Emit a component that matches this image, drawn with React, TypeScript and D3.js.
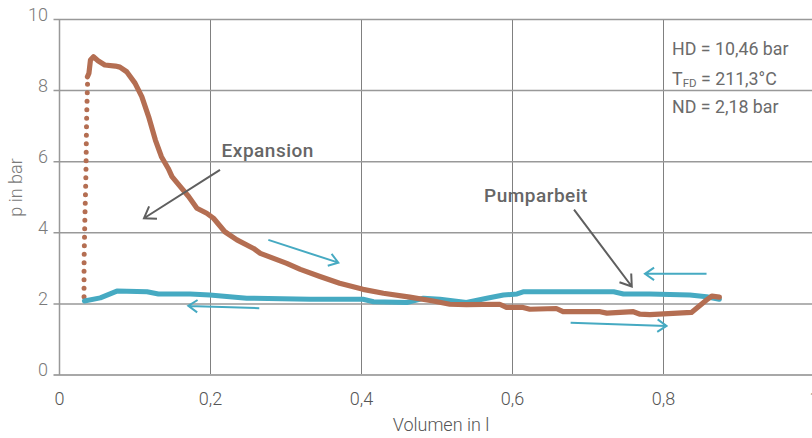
import React from "react";
import * as d3 from "d3";

// ---- data (volume in l, pressure in bar) ----
const xTicks = [0, 0.2, 0.4, 0.6, 0.8, 1];
const xTickLabels = ["0", "0,2", "0,4", "0,6", "0,8", "1"];
const yTicks = [0, 2, 4, 6, 8, 10];
const yTickLabels = ["0", "2", "4", "6", "8", "10"];

// dotted compression rise (brown)
const compV = [0.0325, 0.0325, 0.0334, 0.035, 0.036, 0.0374];
const compP = [2.2, 2.87, 4.17, 5.67, 7.27, 8.39];

// expansion curve (brown, solid)
const expV = [0.037, 0.039, 0.041, 0.045, 0.051, 0.06, 0.074, 0.08, 0.089, 0.1, 0.109, 0.118, 0.127, 0.135, 0.144, 0.149, 0.16, 0.171, 0.182, 0.195, 0.204, 0.219, 0.235, 0.257, 0.266, 0.301, 0.319, 0.345, 0.371, 0.402, 0.429, 0.464, 0.495, 0.517, 0.539, 0.583, 0.592, 0.614, 0.623, 0.658, 0.667, 0.716, 0.725, 0.76, 0.769, 0.782, 0.837, 0.857, 0.864, 0.874];
const expP = [8.39, 8.49, 8.86, 8.95, 8.84, 8.72, 8.69, 8.66, 8.53, 8.21, 7.83, 7.27, 6.61, 6.14, 5.81, 5.58, 5.3, 5.02, 4.69, 4.55, 4.41, 4.03, 3.8, 3.56, 3.42, 3.14, 2.97, 2.77, 2.58, 2.41, 2.3, 2.19, 2.08, 1.99, 1.98, 1.99, 1.9, 1.9, 1.85, 1.87, 1.78, 1.78, 1.74, 1.78, 1.71, 1.7, 1.76, 2.11, 2.22, 2.19];

// pumping curve (teal)
const pumpV = [0.033, 0.054, 0.076, 0.116, 0.131, 0.173, 0.199, 0.248, 0.332, 0.402, 0.416, 0.46, 0.482, 0.504, 0.539, 0.566, 0.588, 0.606, 0.614, 0.734, 0.747, 0.782, 0.835, 0.857, 0.874];
const pumpP = [2.08, 2.17, 2.36, 2.34, 2.28, 2.28, 2.25, 2.16, 2.13, 2.13, 2.06, 2.04, 2.16, 2.13, 2.04, 2.16, 2.25, 2.28, 2.34, 2.34, 2.28, 2.28, 2.25, 2.2, 2.13];

// annotation arrows [fromV, fromP, toV, toP]
const grayArrows = [
  [0.2126, 5.77, 0.1119, 4.41],
  [0.6815, 4.65, 0.758, 2.49],
];
const tealArrows = [
  [0.2766, 3.8, 0.3693, 3.16],
  [0.2646, 1.879, 0.1706, 1.944],
  [0.857, 2.845, 0.7755, 2.845],
  [0.677, 1.473, 0.804, 1.38],
];

const labelTexts = ["Expansion", "Pumparbeit"];
const labelV = [0.2147, 0.5623];
const labelP = [6.14, 4.87];

const infoV = 0.8113;
const infoP = [9.01, 8.17, 7.38];

const W = 812;
const H = 438;
const FONT = "Roboto, 'Open Sans', sans-serif";
const BROWN = "#b46e52";
const TEAL = "#46aac2";

export default function App() {
  const x = d3.scaleLinear().domain([0, 1]).range([59.5, 814.5]);
  const y = d3.scaleLinear().domain([0, 10]).range([375, 19.5]);

  const line = d3
    .line<[number, number]>()
    .x((d) => x(d[0]))
    .y((d) => y(d[1]))
    .curve(d3.curveLinear);

  const smooth = d3
    .line<[number, number]>()
    .x((d) => x(d[0]))
    .y((d) => y(d[1]))
    .curve(d3.curveMonotoneY);

  const comp = compV.map((v, i) => [v, compP[i]] as [number, number]);
  const exp = expV.map((v, i) => [v, expP[i]] as [number, number]);
  const pump = pumpV.map((v, i) => [v, pumpP[i]] as [number, number]);

  const arrow = (a: number[], len: number) => {
    const x1 = x(a[0]), y1 = y(a[1]), x2 = x(a[2]), y2 = y(a[3]);
    const ang = Math.atan2(y2 - y1, x2 - x1);
    const spread = 0.6;
    const h1x = x2 - len * Math.cos(ang - spread);
    const h1y = y2 - len * Math.sin(ang - spread);
    const h2x = x2 - len * Math.cos(ang + spread);
    const h2y = y2 - len * Math.sin(ang + spread);
    return `M${x1},${y1}L${x2},${y2}M${h1x},${h1y}L${x2},${y2}L${h2x},${h2y}`;
  };

  return (
    <svg
      width={W}
      height={H}
      style={{ position: "absolute", left: 0, top: 0, background: "#fff" }}
      fontFamily={FONT}
    >
      {/* vertical gridlines */}
      {xTicks.map((t) => (
        <line key={"vx" + t} x1={x(t)} x2={x(t)} y1={y(10)} y2={y(0)} stroke="#808080" strokeWidth={1} />
      ))}
      {/* horizontal gridlines (extend left as ticks) */}
      {yTicks.map((t) => (
        <line key={"hy" + t} x1={x(0) - 6} x2={W} y1={y(t)} y2={y(t)} stroke={t === 0 ? "#a8a8a8" : "#999"} strokeWidth={t === 0 ? 2 : 1.5} />
      ))}
      {/* y axis line */}
      <line x1={x(0)} x2={x(0)} y1={y(10)} y2={y(0)} stroke="#999" strokeWidth={1.5} />

      {/* y tick labels */}
      {yTicks.map((t, i) => (
        <text key={"yl" + t} x={48} y={y(t) + 1} textAnchor="end" fontSize={18} fontWeight={300} fill="#7a7a7a">
          {yTickLabels[i]}
        </text>
      ))}
      {/* x tick labels */}
      {xTicks.map((t, i) => (
        <text key={"xl" + t} x={x(t)} y={405} textAnchor="middle" fontSize={18} fontWeight={300} fill="#555">
          {xTickLabels[i]}
        </text>
      ))}
      {/* axis titles */}
      <text x={(x(0) + x(1)) / 2 + 4} y={431} textAnchor="middle" fontSize={18} fontWeight={300} fill="#555">
        Volumen in l
      </text>
      <text transform={`translate(21.5,187.5) rotate(-90)`} textAnchor="middle" fontSize={18} fontWeight={300} fill="#7a7a7a">
        p in bar
      </text>

      {/* curves */}
      <path d={smooth(comp) || ""} fill="none" stroke={BROWN} strokeWidth={5} strokeLinecap="round" strokeDasharray="0 8.5" />
      <path d={line(pump) || ""} fill="none" stroke={TEAL} strokeWidth={5} strokeLinejoin="round" strokeLinecap="round" />
      <path d={line(exp) || ""} fill="none" stroke={BROWN} strokeWidth={5.2} strokeLinejoin="round" strokeLinecap="round" />

      {/* arrows */}
      {grayArrows.map((a, i) => (
        <path key={"ga" + i} d={arrow(a, 13)} fill="none" stroke="#5f5f5f" strokeWidth={2} />
      ))}
      {tealArrows.map((a, i) => (
        <path key={"ta" + i} d={arrow(a, 11)} fill="none" stroke={TEAL} strokeWidth={2} />
      ))}

      {/* labels */}
      {labelTexts.map((t, i) => (
        <text key={"lb" + i} x={x(labelV[i])} y={y(labelP[i])} fontSize={19} fontWeight={500} letterSpacing={0.5} fill="#666">
          {t}
        </text>
      ))}

      {/* info box */}
      <text x={x(infoV)} y={y(infoP[0])} fontSize={17.8} fontWeight={400} fill="#6b6b6b">
        HD = 10,46 bar
      </text>
      <text x={x(infoV)} y={y(infoP[1])} fontSize={17.8} fontWeight={400} fill="#6b6b6b">
        T<tspan fontSize={11.5} dy={2}>FD</tspan>
        <tspan dy={-2}> = 211,3°C</tspan>
      </text>
      <text x={x(infoV)} y={y(infoP[2])} fontSize={17.8} fontWeight={400} fill="#6b6b6b">
        ND = 2,18 bar
      </text>
    </svg>
  );
}
